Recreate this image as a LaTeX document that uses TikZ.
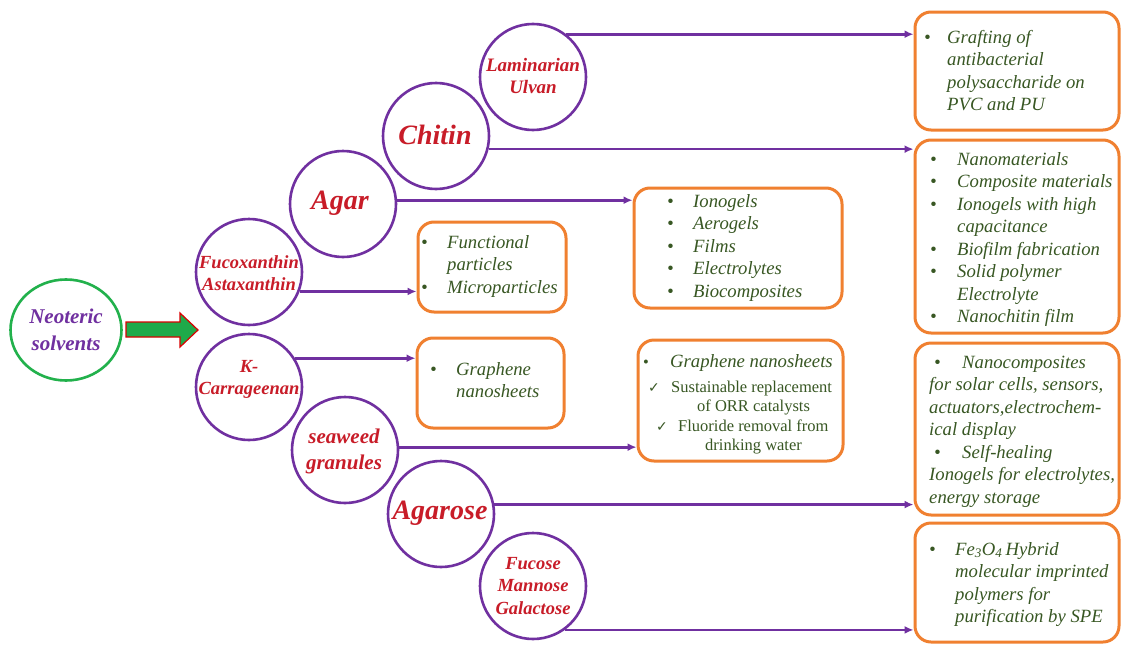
\documentclass[tikz,border=0pt]{standalone}
\usepackage{fontspec}
\setmainfont{Liberation Serif}
\newfontfamily\symfont{DejaVu Sans}
\usetikzlibrary{arrows.meta,shapes.geometric}
\definecolor{cpurple}{HTML}{7030A0}
\definecolor{corange}{HTML}{F08030}
\definecolor{cgreen}{HTML}{385723}
\definecolor{cred}{RGB}{200,28,40}
\definecolor{cgreenc}{HTML}{22B14C}
\definecolor{carrowg}{HTML}{1FAA4A}
\newcommand\bitem[1]{\makebox[#1][l]{\textbullet}}
\newcommand\bind[1]{\hspace*{#1}}
\newcommand\chk[1]{\makebox[#1][l]{\symfont\fontsize{14}{14}\selectfont ✓}}
\begin{document}
\begin{tikzpicture}[x=1pt,y=-1pt,
 circ/.style={circle, draw=cpurple, line width=2.6pt, minimum size=106pt, inner sep=0pt},
 ctext/.style={text=cred, align=center, inner sep=0pt},
 box/.style={draw=corange, line width=3pt, rounded corners=16pt, inner sep=0pt},
 btext/.style={text=cgreen, font=\itshape\fontsize{18.7}{22.5}\selectfont, anchor=base west, inner sep=0pt},
 conn/.style={draw=cpurple, line width=2.7pt, -{Latex[length=9pt,width=8pt]}},
]
\useasboundingbox[fill=white] (0,0) rectangle (1121,645);

% source ellipse and arrow
\node[ellipse, draw=cgreenc, line width=2.6pt, minimum width=111pt, minimum height=101pt, inner sep=0pt] (neo) at (66,330) {};
\node[text=cpurple, align=center, inner sep=0pt, font=\bfseries\itshape\fontsize{21}{27}\selectfont] at (neo) {Neoteric\\solvents};
\draw[draw=red!85!black, line width=1.2pt, fill=carrowg] (126,322) -- (180,322) -- (180,313) -- (198,330) -- (180,347) -- (180,337) -- (126,337) -- cycle;

% circles
\node[circ] (lam) at (533,77) {};
\node[circ] (chi) at (436,136) {};
\node[circ] (aga) at (343,204) {};
\node[circ] (fuc) at (249,272) {};
\node[circ] (kca) at (249,387) {};
\node[circ] (sea) at (345,450) {};
\node[circ] (ars) at (441,514) {};
\node[circ] (fmg) at (533,586) {};

\node[ctext, font=\bfseries\itshape\fontsize{19}{22}\selectfont] at (533,76) {Laminarian\\Ulvan};
\node[ctext, font=\bfseries\itshape\fontsize{28}{30}\selectfont] at (435,135) {Chitin};
\node[ctext, font=\bfseries\itshape\fontsize{28}{30}\selectfont] at (340,203) {Agar};
\node[ctext, font=\bfseries\itshape\fontsize{18.5}{22}\selectfont] at (249,273) {Fucoxanthin\\Astaxanthin};
\node[ctext, font=\bfseries\itshape\fontsize{18.5}{22}\selectfont] at (249,379) {K-\\Carrageenan};
\node[ctext, font=\bfseries\itshape\fontsize{21}{26}\selectfont] at (344,451) {seaweed\\granules};
\node[ctext, font=\bfseries\itshape\fontsize{28}{30}\selectfont] at (440,513) {Agarose};
\node[ctext, font=\bfseries\itshape\fontsize{18.5}{22.5}\selectfont] at (533,586) {Fucose\\Mannose\\Galactose};

% boxes
\node[box, minimum width=204pt, minimum height=118pt] (g1) at (1017,71) {};
\node[box, minimum width=204pt, minimum height=193pt] (g2) at (1017,236.5) {};
\node[box, minimum width=204pt, minimum height=172pt] (g3) at (1017,429) {};
\node[box, minimum width=204pt, minimum height=119pt] (g4) at (1017,582.5) {};
\node[box, minimum width=208pt, minimum height=120pt] (ion) at (738,248) {};
\node[box, minimum width=205pt, minimum height=121pt] (orr) at (740.5,400.5) {};
\node[box, minimum width=148pt, minimum height=90pt] (fun) at (492,267) {};
\node[box, minimum width=147pt, minimum height=90pt] (gra) at (490.5,383) {};

% box texts
\node[btext] at (924,43) {\begin{tabular}[t]{@{}l@{}}\bitem{23pt}Grafting of\\ \bind{23pt}antibacterial\\ \bind{23pt}polysaccharide on\\ \bind{23pt}PVC and PU\end{tabular}};
\node[btext] at (930,165) {\begin{tabular}[t]{@{}l@{}}\bitem{27pt}Nanomaterials\\ \bitem{27pt}Composite materials\\ \bitem{27pt}Ionogels with high\\ \bind{27pt}capacitance\\ \bitem{27pt}Biofilm fabrication\\ \bitem{27pt}Solid polymer\\ \bind{27pt}Electrolyte\\ \bitem{27pt}Nanochitin film\end{tabular}};
\node[btext] at (929,368) {\begin{tabular}[t]{@{}l@{}}\bind{5pt}\bitem{28pt}Nanocomposites\\ for solar cells, sensors,\\ actuators,electrochem-\\ ical display\\ \bind{5pt}\bitem{28pt}Self-healing\\ Ionogels for electrolytes,\\ energy storage\end{tabular}};
\node[btext] at (929,555) {\begin{tabular}[t]{@{}l@{}}\bitem{26pt}Fe\textsubscript{3}O\textsubscript{4}\,Hybrid\\ \bind{26pt}molecular imprinted\\ \bind{26pt}polymers for\\ \bind{26pt}purification by SPE\end{tabular}};
\node[btext] at (667,207) {\begin{tabular}[t]{@{}l@{}}\bitem{26pt}Ionogels\\ \bitem{26pt}Aerogels\\ \bitem{26pt}Films\\ \bitem{26pt}Electrolytes\\ \bitem{26pt}Biocomposites\end{tabular}};
\node[btext] at (421,248) {\begin{tabular}[t]{@{}l@{}}\bitem{26pt}Functional\\ \bind{26pt}particles\\ \bitem{26pt}Microparticles\end{tabular}};
\node[btext] at (430,375) {\begin{tabular}[t]{@{}l@{}}\bitem{26pt}Graphene\\ \bind{26pt}nanosheets\end{tabular}};
\node[btext, font=\upshape\fontsize{16.5}{19.5}\selectfont] at (643,367) {\begin{tabular}[t]{@{}l@{}}\bitem{27pt}{\itshape\fontsize{18.7}{19.5}\selectfont Graphene nanosheets}\\[5.5pt] \bind{5pt}\chk{23pt}Sustainable replacement\\ \bind{54pt}of ORR catalysts\\ \bind{13pt}\chk{22pt}Fluoride removal from\\ \bind{62pt}drinking water\end{tabular}};

% connectors
\draw[conn] (lam.52) -- (lam.52 -| g1.west);
\draw[conn] (chi.-14) -- (chi.-14 -| g2.west);
\draw[conn] (aga.4) -- (aga.4 -| ion.west);
\draw[conn] (fuc.-21) -- (fuc.-21 -| fun.west);
\draw[conn] (kca.32) -- (kca.32 -| gra.west);
\draw[conn] (sea.3) -- (sea.3 -| orr.west);
\draw[conn] (ars.10) -- (ars.10 -| g3.west);
\draw[conn] (fmg.-54) -- (fmg.-54 -| g4.west);
\end{tikzpicture}
\end{document}
